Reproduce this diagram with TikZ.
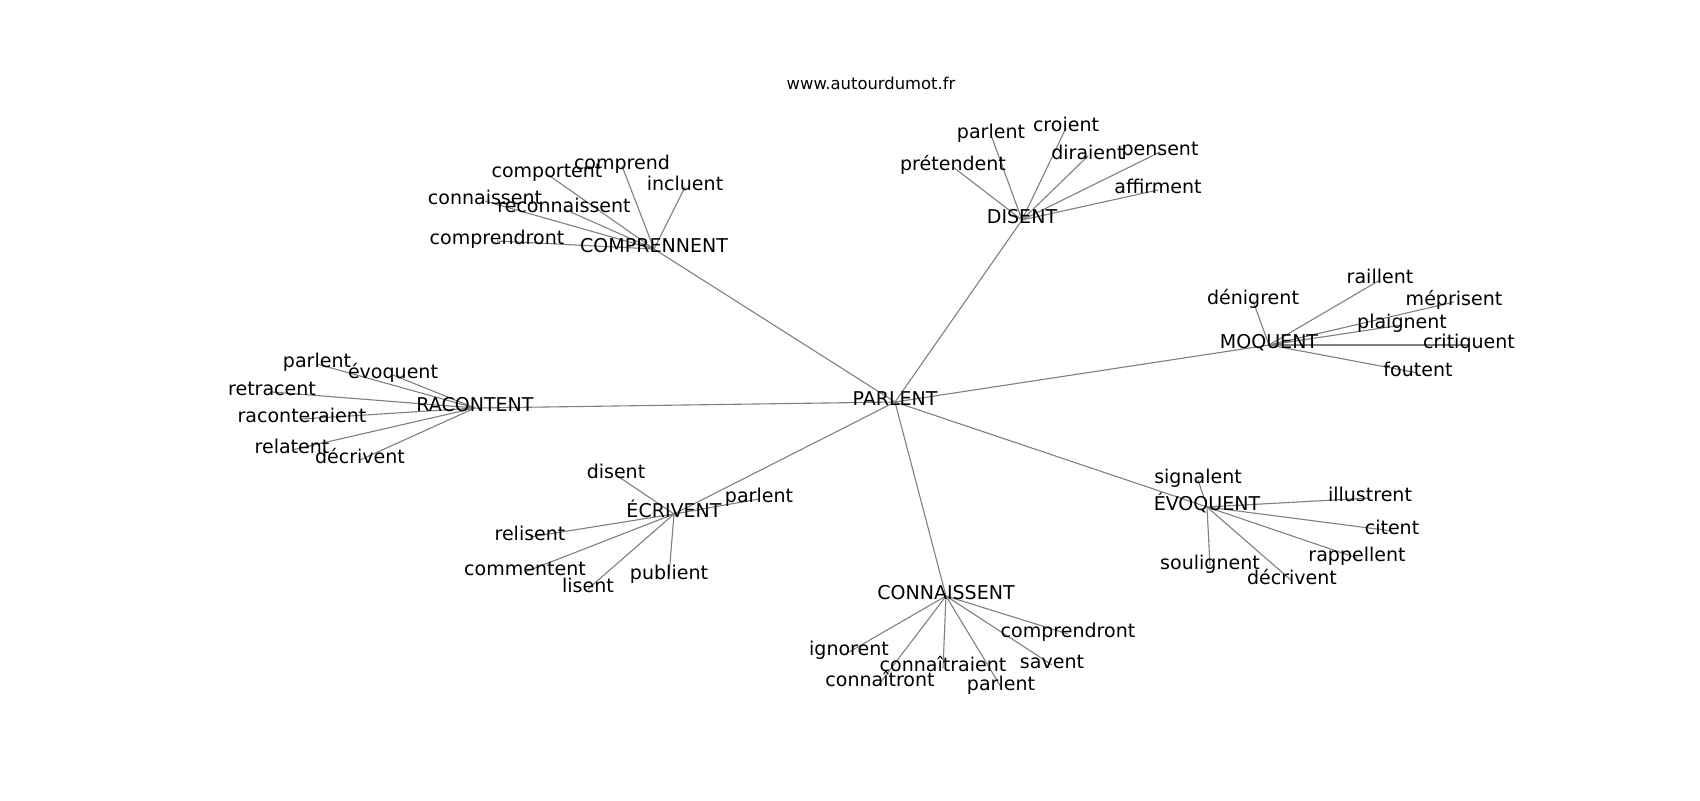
\documentclass[tikz,border=0pt]{standalone}
\usepackage{fontspec}
\setmainfont{DejaVu Sans}
\pgfdeclarelayer{bg}
\pgfsetlayers{bg,main}
\tikzset{
  lbl/.style={inner sep=0pt, outer sep=0pt, anchor=center, text height=0.76em, text depth=0.24em,
    font=\fontsize{13.7}{16}\selectfont, text=black},
  ttl/.style={inner sep=0pt, anchor=center, text height=0.76em, text depth=0.24em,
    font=\fontsize{11.8}{14}\selectfont, text=black},
  edge/.style={draw=black!50, line width=0.8pt}
}
\begin{document}
\begin{tikzpicture}[x=0.72pt, y=-0.72pt]
\useasboundingbox (0,0) rectangle (1700,800);
\begin{scope}[shift={(0,4)}]
\node[ttl] (title) at (871,82) {www.autourdumot.fr};
% hubs
\node[lbl] (P) at (895,398) {PARLENT};
\node[lbl] (CO) at (654,245) {COMPRENNENT};
\node[lbl] (DI) at (1022,216) {DISENT};
\node[lbl] (MO) at (1269,341) {MOQUENT};
\node[lbl] (RA) at (475,404) {RACONTENT};
\node[lbl] (EC) at (674,510) {ÉCRIVENT};
\node[lbl] (CN) at (946,592) {CONNAISSENT};
\node[lbl] (EV) at (1207,503) {ÉVOQUENT};
% COMPRENNENT leaves
\node[lbl] (co1) at (497,237) {comprendront};
\node[lbl] (co2) at (485,197) {connaissent};
\node[lbl] (co3) at (564,205) {reconnaissent};
\node[lbl] (co4) at (547,170) {comportent};
\node[lbl] (co5) at (622,162) {comprend};
\node[lbl] (co6) at (685,183) {incluent};
% DISENT leaves
\node[lbl] (di1) at (953,163) {prétendent};
\node[lbl] (di2) at (991,131) {parlent};
\node[lbl] (di3) at (1066,124) {croient};
\node[lbl] (di4) at (1088,152) {diraient};
\node[lbl] (di5) at (1160,148) {pensent};
\node[lbl] (di6) at (1158,186) {affirment};
% MOQUENT leaves
\node[lbl] (mo1) at (1253,297) {dénigrent};
\node[lbl] (mo2) at (1380,276) {raillent};
\node[lbl] (mo3) at (1454,298) {méprisent};
\node[lbl] (mo4) at (1402,321) {plaignent};
\node[lbl] (mo5) at (1469,341) {critiquent};
\node[lbl] (mo6) at (1418,369) {foutent};
% RACONTENT leaves
\node[lbl] (ra1) at (317,360) {parlent};
\node[lbl] (ra2) at (393,371) {évoquent};
\node[lbl] (ra3) at (272,388) {retracent};
\node[lbl] (ra4) at (302,415) {raconteraient};
\node[lbl] (ra5) at (292,446) {relatent};
\node[lbl] (ra6) at (360,456) {décrivent};
% ECRIVENT leaves
\node[lbl] (ec1) at (616,471) {disent};
\node[lbl] (ec2) at (759,495) {parlent};
\node[lbl] (ec3) at (530,533) {relisent};
\node[lbl] (ec4) at (525,568) {commentent};
\node[lbl] (ec5) at (588,585) {lisent};
\node[lbl] (ec6) at (669,572) {publient};
% CONNAISSENT leaves
\node[lbl] (cn1) at (1068,630) {comprendront};
\node[lbl] (cn2) at (849,648) {ignorent};
\node[lbl] (cn3) at (943,664) {connaîtraient};
\node[lbl] (cn4) at (1052,661) {savent};
\node[lbl] (cn5) at (880,679) {connaîtront};
\node[lbl] (cn6) at (1001,683) {parlent};
% EVOQUENT leaves
\node[lbl] (ev1) at (1198,476) {signalent};
\node[lbl] (ev2) at (1370,494) {illustrent};
\node[lbl] (ev3) at (1392,527) {citent};
\node[lbl] (ev4) at (1357,554) {rappellent};
\node[lbl] (ev5) at (1210,562) {soulignent};
\node[lbl] (ev6) at (1292,577) {décrivent};
\begin{pgfonlayer}{bg}
\foreach \h in {CO,DI,MO,RA,EC,CN,EV}
  \draw[edge] (P.center) -- (\h.center);
\foreach \h/\l in {CO/co,DI/di,MO/mo,RA/ra,EC/ec,CN/cn,EV/ev}
  \foreach \i in {1,...,6}
    \draw[edge] (\h.center) -- (\l\i.center);
\end{pgfonlayer}
\end{scope}
\end{tikzpicture}
\end{document}
